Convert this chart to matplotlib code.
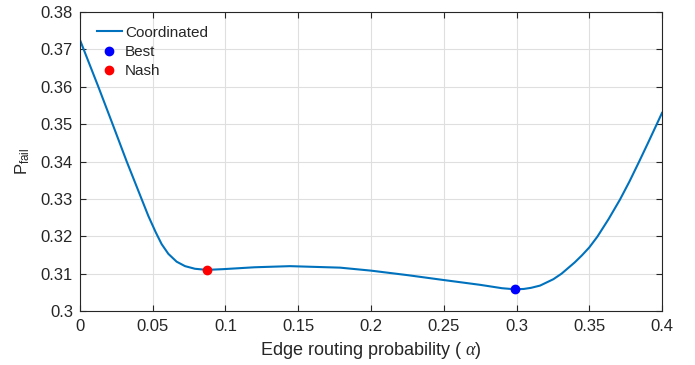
import matplotlib
matplotlib.use("Agg")
import matplotlib.pyplot as plt

plt.rcParams['font.family'] = ['Liberation Sans', 'DejaVu Sans']
plt.rcParams['mathtext.fontset'] = 'custom'
plt.rcParams['mathtext.it'] = 'Liberation Serif:italic'
plt.rcParams['mathtext.rm'] = 'Liberation Sans'

alpha = [0.0, 0.0126, 0.0224, 0.0321, 0.0423, 0.0470, 0.0520, 0.0561, 0.0607, 0.0664,
         0.0722, 0.0790, 0.0871, 0.0985, 0.120, 0.1443, 0.1787, 0.200, 0.225, 0.2497,
         0.275, 0.290, 0.299, 0.305, 0.310, 0.3162, 0.3253, 0.331, 0.340, 0.345,
         0.350, 0.3556, 0.3633, 0.3711, 0.3777, 0.3842, 0.3903, 0.3963, 0.400]
p_fail = [0.3725, 0.3600, 0.3500, 0.3400, 0.3300, 0.3254, 0.3211, 0.3179, 0.3153, 0.3132,
          0.3120, 0.3113, 0.3110, 0.3112, 0.3117, 0.3120, 0.3116, 0.3108, 0.3096, 0.3083,
          0.3070, 0.3061, 0.3058, 0.3059, 0.3062, 0.3068, 0.3085, 0.3100, 0.3130, 0.3149,
          0.3170, 0.3199, 0.3246, 0.3298, 0.3347, 0.3399, 0.3449, 0.3499, 0.3530]
best_x, best_y = [0.2990], [0.3058]
nash_x, nash_y = [0.0871], [0.3110]
xticks = [0, 0.05, 0.1, 0.15, 0.2, 0.25, 0.3, 0.35, 0.4]
xtick_labels = ['0', '0.05', '0.1', '0.15', '0.2', '0.25', '0.3', '0.35', '0.4']
yticks = [0.3, 0.31, 0.32, 0.33, 0.34, 0.35, 0.36, 0.37, 0.38]
ytick_labels = ['0.3', '0.31', '0.32', '0.33', '0.34', '0.35', '0.36', '0.37', '0.38']

fig = plt.figure(figsize=(6.95, 3.65), dpi=100)
ax = fig.add_axes([80/695, 1 - 311/365, (662-80)/695, (311-12)/365])

ax.plot(alpha, p_fail, color='#0072BD', lw=1.5, label='Coordinated')
ax.plot(best_x, best_y, 'o', color='#0000FF', ms=6, label='Best', zorder=3)
ax.plot(nash_x, nash_y, 'o', color='#FF0000', ms=6, label='Nash', zorder=3)

ax.set_xlim(0, 0.4)
ax.set_ylim(0.3, 0.38)
ax.set_xticks(xticks)
ax.set_xticklabels(xtick_labels)
ax.set_yticks(yticks)
ax.set_yticklabels(ytick_labels)
ax.grid(True, color='#DFDFDF', lw=0.8)
ax.set_axisbelow(True)
for s in ax.spines.values():
    s.set_color('#262626')
    s.set_linewidth(0.8)
ax.tick_params(direction='in', top=True, right=True, length=4, width=0.8,
               colors='#262626', labelsize=12)
ax.tick_params(axis='x', pad=6)
ax.tick_params(axis='y', pad=5)
ax.set_xlabel(r'Edge routing probability ( $\mathit{\alpha}$)', fontsize=13, color='#262626', labelpad=4)
ax.set_ylabel(r'P$_{\mathrm{fail}}$', fontsize=12, color='#262626', labelpad=6)

leg = ax.legend(loc='upper left', frameon=False, fontsize=11, handlelength=1.65,
                handletextpad=0.2, borderaxespad=0.3, labelspacing=0.35,
                bbox_to_anchor=(6/582, 1 - 3/299))
for t in leg.get_texts():
    t.set_color('#262626')

fig.savefig('out.png', dpi=100)
